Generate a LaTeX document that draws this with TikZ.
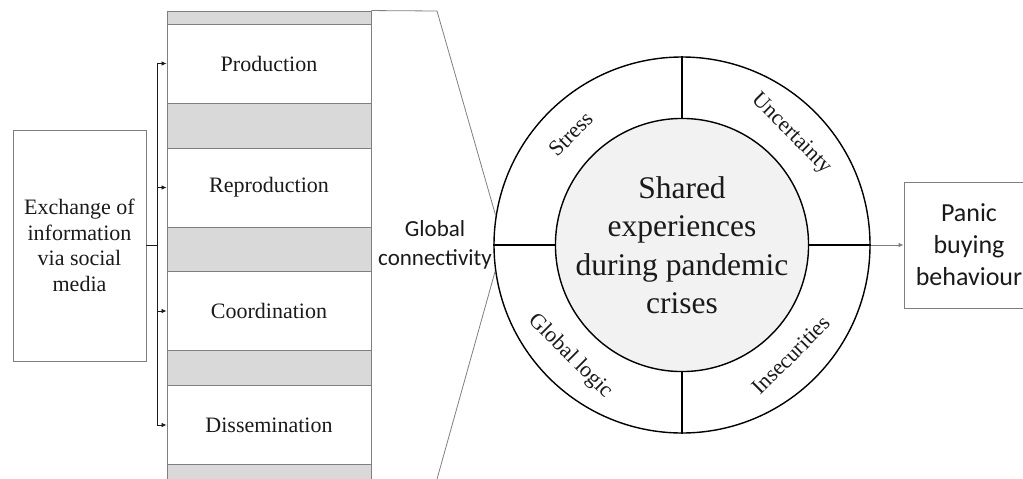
\documentclass[tikz,border=0pt]{standalone}
\usepackage{fontspec}
\setmainfont{Liberation Serif}
\newfontfamily\calibri{Carlito}
\usetikzlibrary{arrows.meta}
\definecolor{bandgray}{HTML}{D9D9D9}
\definecolor{coregray}{HTML}{F2F2F2}
\definecolor{edgegray}{HTML}{7F7F7F}
\definecolor{ink}{HTML}{1A1A1A}
\begin{document}
\begin{tikzpicture}[x=1pt,y=-1pt,
  srcbox/.style={draw=edgegray, line width=0.9pt, fill=white, minimum width=133pt, minimum height=231pt, inner sep=0pt, align=center, text=ink, font=\fontsize{22}{25.5}\selectfont},
  stripbox/.style={draw=edgegray, line width=0.9pt, fill=white, minimum width=204pt, minimum height=79pt, inner sep=0pt, text=ink, font=\fontsize{22}{26}\selectfont},
  bandbox/.style={draw=edgegray, line width=0.9pt, fill=bandgray, minimum width=204pt, minimum height=484pt, inner sep=0pt},
  ringline/.style={draw=black, line width=1.4pt},
  ringlabel/.style={text=ink, font=\fontsize{22}{26}\selectfont, inner sep=0pt},
  zoomline/.style={draw=edgegray, line width=0.8pt},
  feed/.style={draw=ink, line width=0.8pt},
  tip/.style={-{Latex[length=5pt,width=4.5pt]}},
  sanslabel/.style={text=ink, align=center, inner sep=0pt, font=\calibri\fontsize{23}{28.5}\selectfont},
]
\useasboundingbox (0,0) rectangle (1023,479);
\clip (0,0) rectangle (1023,479);

% left source box
\node[srcbox] (src) at (79.5,245.5) {Exchange of\\information\\via social\\media};

% strip
\node[bandbox] (strip) at (269,253) {};
\node[stripbox] (prod) at (269,63.5) {Production};
\node[stripbox] (repr) at (269,187.5) {Reproduction};
\node[stripbox] (coor) at (269,311) {Coordination};
\node[stripbox] (diss) at (269,425) {Dissemination};

% feed connectors
\coordinate (j) at (157,245);
\draw[feed] (src.east |- j) -- (j);
\draw[feed] (j |- prod.west) -- (j |- diss.west);
\draw[feed,tip] (j |- prod.west) -- (prod.west);
\draw[feed,tip] (j |- repr.west) -- (repr.west);
\draw[feed,tip] (j |- coor.west) -- (coor.west);
\draw[feed,tip] (j |- diss.west) -- (diss.west);

% rings
\node[circle, ringline, fill=white, minimum size=376pt, inner sep=0pt] (ring) at (682,245) {};
\node[circle, ringline, fill=coregray, minimum size=252pt, inner sep=0pt, align=center, text=ink,
      font=\fontsize{31.5}{38.5}\selectfont] (core) at (682,245) {Shared\\experiences\\during pandemic\\crises};
\draw[ringline] (core.north) -- (ring.north);
\draw[ringline] (core.south) -- (ring.south);
\draw[ringline] (core.west) -- (ring.west);
\draw[ringline] (core.east) -- (ring.east);

\node[ringlabel, rotate=45] (stress) at (571,134) {Stress};
\node[ringlabel, rotate=-45] (unc) at (791,134) {Uncertainty};
\node[ringlabel, rotate=-45] (glog) at (570,356) {Global logic};
\node[ringlabel, rotate=45] (insec) at (791,355) {Insecurities};

% zoom lines
\coordinate (zt) at (437,11);
\coordinate (zb) at (432,497);
\draw[zoomline] (strip.north east) -- (zt) -- (ring.171.4);
\draw[zoomline] (ring.188.6) -- (zb);
\node[sanslabel] (glob) at (435,245) {Global\\connectivity};

% outcome
\node[draw=edgegray, line width=0.9pt, minimum width=130pt, minimum height=126pt, inner sep=0pt, align=center, text=ink,
      font=\calibri\fontsize{26}{32}\selectfont] (panic) at (969,245) {Panic\\buying\\behaviour};
\draw[draw=edgegray, line width=0.8pt, tip] (ring.east) -- (panic.west);
\end{tikzpicture}
\end{document}
